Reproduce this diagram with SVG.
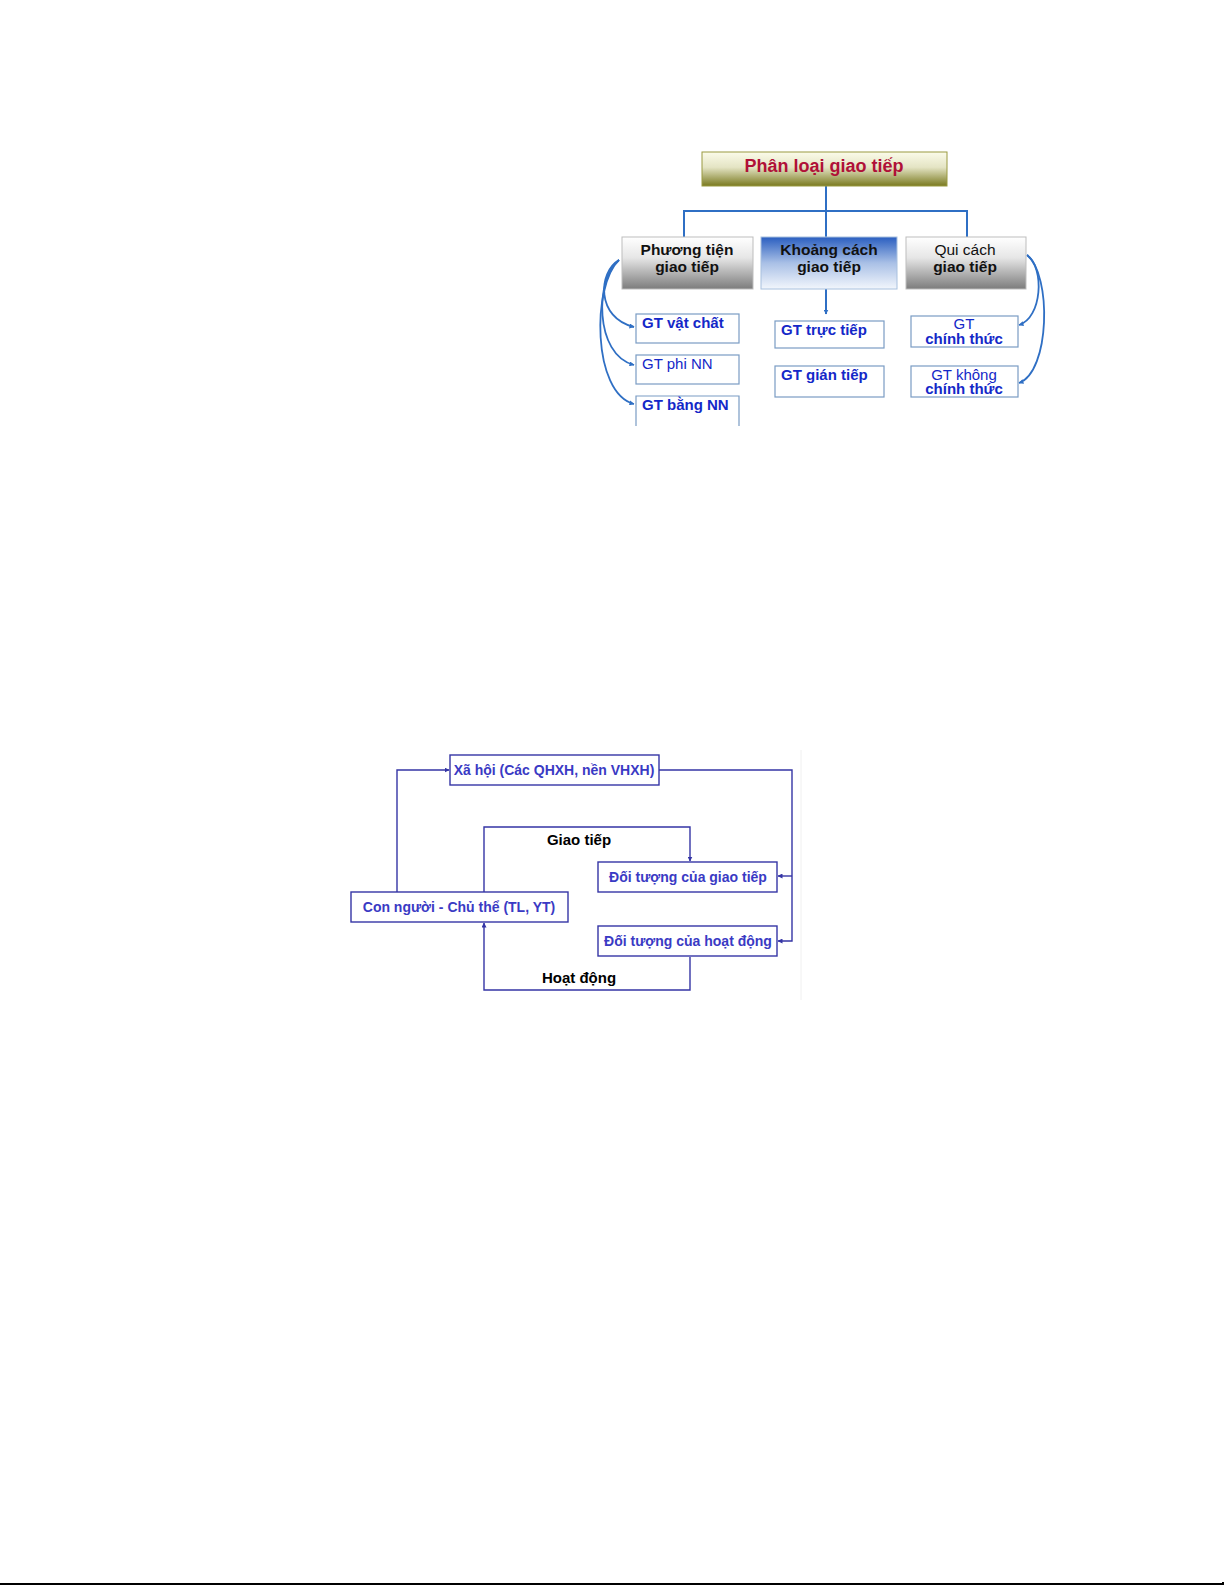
<svg xmlns="http://www.w3.org/2000/svg" width="1225" height="1585" viewBox="0 0 1225 1585">
<style>
text{font-family:"Liberation Sans",Arial,sans-serif}
.b{font-weight:bold}
.hdr{font-size:15.5px;fill:#111;text-anchor:middle}
.sm{font-size:15px;fill:#1428c8}
.smc{font-size:15px;fill:#1428c8;text-anchor:middle}
.leaf{fill:#fff;stroke:#7a9cc4;stroke-width:1.2}
.bl{fill:none;stroke:#2f6fc4;stroke-width:2}
.blc{fill:none;stroke:#2f6fc4;stroke-width:1.8}
.nv{fill:none;stroke:#3535a5;stroke-width:1.4}
.nbox{fill:#fff;stroke:#3535a5;stroke-width:1.4}
.nt{font-size:14px;font-weight:bold;fill:#3a3ac4;text-anchor:middle}
.lab{font-size:15px;font-weight:bold;fill:#000;text-anchor:middle}
</style>
<defs>
<linearGradient id="gOlive" x1="0" y1="0" x2="0" y2="1"><stop offset="0" stop-color="#fbfbea"/><stop offset="0.45" stop-color="#e4e4c4"/><stop offset="1" stop-color="#7a7a20"/></linearGradient>
<linearGradient id="gGray" x1="0" y1="0" x2="0" y2="1"><stop offset="0" stop-color="#ffffff"/><stop offset="0.4" stop-color="#e6e6e6"/><stop offset="1" stop-color="#7c7c7c"/></linearGradient>
<linearGradient id="gBlue" x1="0" y1="0" x2="0" y2="1"><stop offset="0" stop-color="#2a5ec0"/><stop offset="0.5" stop-color="#a9c0e6"/><stop offset="1" stop-color="#f2f6fc"/></linearGradient>
<marker id="aB" viewBox="0 0 10 10" refX="9" refY="5" markerWidth="5" markerHeight="5" orient="auto" markerUnits="userSpaceOnUse"><path d="M0,0 L10,5 L0,10 z" fill="#2f6fc4"/></marker>
<marker id="aN" viewBox="0 0 10 10" refX="9" refY="5" markerWidth="5" markerHeight="5" orient="auto" markerUnits="userSpaceOnUse"><path d="M0,0 L10,5 L0,10 z" fill="#3535a5"/></marker>
</defs>

<g id="connectors">
<path class="bl" d="M826,186 V237 M684,237 V211 H967 V237"/>
<path class="bl" d="M826,289 V314" marker-end="url(#aB)"/>
<path class="blc" d="M619,260 C598,272 596,318 634,327" marker-end="url(#aB)"/>
<path class="blc" d="M619,260 C595,278 594,355 634,365" marker-end="url(#aB)"/>
<path class="blc" d="M619,260 C592,285 592,393 634,404" marker-end="url(#aB)"/>
<path class="blc" d="M1027,255 C1045,268 1042,318 1019,325" marker-end="url(#aB)"/>
<path class="blc" d="M1027,255 C1052,275 1050,372 1019,383" marker-end="url(#aB)"/>

<path class="nv" d="M659,770 H792 V941 H778" marker-end="url(#aN)"/>
<path class="nv" d="M792,876 H778" marker-end="url(#aN)"/>
<path class="nv" d="M397,892 V770 H449" marker-end="url(#aN)"/>
<path class="nv" d="M484,892 V827 H690 V861" marker-end="url(#aN)"/>
<path class="nv" d="M690,957 V990 H484 V923" marker-end="url(#aN)"/>
<line x1="801" y1="750" x2="801" y2="1000" stroke="#f0f0f0" stroke-width="1"/>
</g>

<g id="title">
<rect x="702" y="152" width="245" height="34" fill="url(#gOlive)" stroke="#9a9a40" stroke-width="1"/>
<text x="824" y="172" font-size="18" class="b" fill="#b01038" text-anchor="middle">Phân loại giao tiếp</text>
</g>

<g id="phuong-tien">
<rect x="622" y="237" width="131" height="52" fill="url(#gGray)" stroke="#bdbdbd" stroke-width="1"/>
<text x="687" y="255" class="hdr b">Phương tiện</text>
<text x="687" y="272" class="hdr b">giao tiếp</text>
</g>
<g id="khoang-cach">
<rect x="761" y="237" width="136" height="52" fill="url(#gBlue)" stroke="#a8c0de" stroke-width="1"/>
<text x="829" y="255" class="hdr b">Khoảng cách</text>
<text x="829" y="272" class="hdr b">giao tiếp</text>
</g>
<g id="qui-cach">
<rect x="906" y="237" width="120" height="52" fill="url(#gGray)" stroke="#bdbdbd" stroke-width="1"/>
<text x="965" y="255" class="hdr">Qui cách</text>
<text x="965" y="272" class="hdr b">giao tiếp</text>
</g>

<g id="gt-vat-chat">
<rect class="leaf" x="636" y="314" width="103" height="29"/>
<text x="642" y="328" class="sm b">GT vật chất</text>
</g>
<g id="gt-phi-nn">
<rect class="leaf" x="636" y="355" width="103" height="29"/>
<text x="642" y="369" class="sm">GT phi NN</text>
</g>
<g id="gt-bang-nn">
<path class="leaf" d="M636,426 V396 H739 V426"/>
<text x="642" y="410" class="sm b">GT bằng NN</text>
</g>
<g id="gt-truc-tiep">
<rect class="leaf" x="775" y="321" width="109" height="27"/>
<text x="781" y="335" class="sm b">GT trực tiếp</text>
</g>
<g id="gt-gian-tiep">
<rect class="leaf" x="775" y="366" width="109" height="31"/>
<text x="781" y="380" class="sm b">GT gián tiếp</text>
</g>
<g id="gt-chinh-thuc">
<rect class="leaf" x="911" y="316" width="107" height="31"/>
<text x="964" y="329" class="smc">GT</text>
<text x="964" y="344" class="smc b">chính thức</text>
</g>
<g id="gt-khong-chinh-thuc">
<rect class="leaf" x="911" y="366" width="107" height="31"/>
<text x="964" y="380" class="smc">GT không</text>
<text x="964" y="394" class="smc b">chính thức</text>
</g>

<g id="xa-hoi">
<rect class="nbox" x="450" y="755" width="209" height="30"/>
<text x="554" y="775" class="nt">Xã hội (Các QHXH, nền VHXH)</text>
</g>
<g id="doi-tuong-giao-tiep">
<rect class="nbox" x="598" y="862" width="179" height="30"/>
<text x="688" y="882" class="nt">Đối tượng của giao tiếp</text>
</g>
<g id="con-nguoi">
<rect class="nbox" x="351" y="892" width="217" height="30"/>
<text x="459" y="912" class="nt">Con người - Chủ thể (TL, YT)</text>
</g>
<g id="doi-tuong-hoat-dong">
<rect class="nbox" x="598" y="926" width="179" height="30"/>
<text x="688" y="946" class="nt">Đối tượng của hoạt động</text>
</g>
<text x="579" y="845" class="lab">Giao tiếp</text>
<text x="579" y="983" class="lab">Hoạt động</text>

<path d="M0,1584 H1223 V1582" fill="none" stroke="#000" stroke-width="2"/>
</svg>
